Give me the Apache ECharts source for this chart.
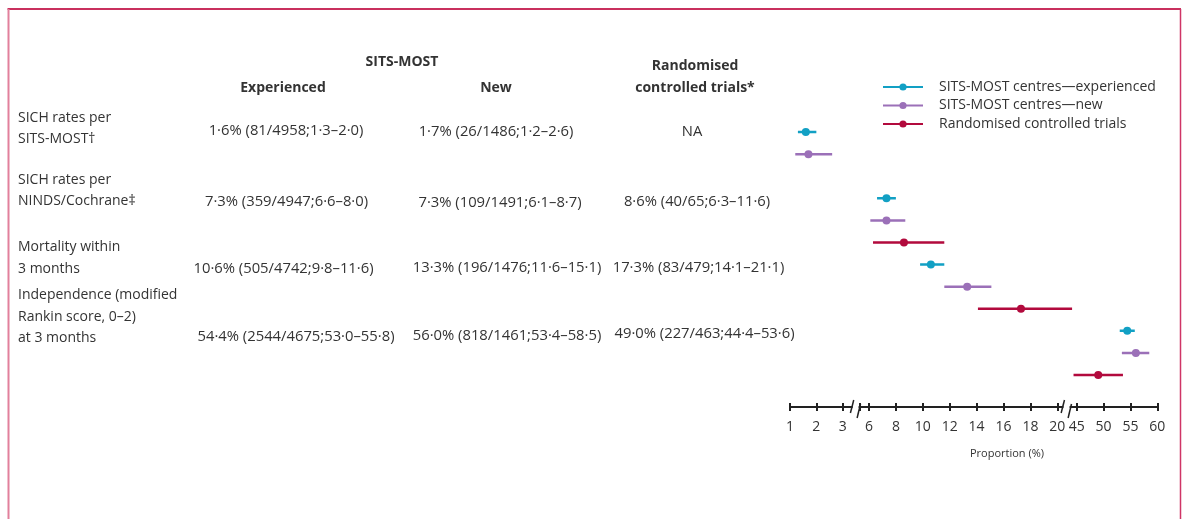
<!DOCTYPE html>
<html>
<head>
<meta charset="utf-8">
<script src="https://cdn.jsdelivr.net/npm/echarts@6/dist/echarts.min.js"></script>
<style>
html,body{margin:0;padding:0;background:#fff;}
#chart{width:1184px;height:519px;}
</style>
</head>
<body>
<div id="chart"></div>
<script>
// ---------------- data ----------------
const groupNames = ['SITS-MOST centres—experienced', 'SITS-MOST centres—new', 'Randomised controlled trials'];
const outcomes = ['SICH SITS-MOST', 'SICH NINDS/Cochrane', 'Mortality 3 months', 'Independence mRS 0–2'];
const categories = [];
outcomes.forEach(o => groupNames.forEach(g => categories.push(o + ' | ' + g)));

const expEst = [1.6, 7.3, 10.6, 54.4];
const expLo  = [1.3, 6.6, 9.8, 53.0];
const expHi  = [2.0, 8.0, 11.6, 55.8];
const newEst = [1.7, 7.3, 13.3, 56.0];
const newLo  = [1.2, 6.1, 11.6, 53.4];
const newHi  = [2.6, 8.7, 15.1, 58.5];
const rctEst = [null, 8.6, 17.3, 49.0];
const rctLo  = [null, 6.3, 14.1, 44.4];
const rctHi  = [null, 11.6, 21.1, 53.6];

// broken axis segments
const segMin = [1, 5.28, 43.8];
const segMax = [3.35, 20.4, 60];
const seg1Ticks = [1, 2, 3];
const seg2Ticks = [6, 8, 10, 12, 14, 16, 18, 20];
const seg3Ticks = [45, 50, 55, 60];

// table text
const rowLabels = [
  ['SICH rates per', 'SITS-MOST†'],
  ['SICH rates per', 'NINDS/Cochrane‡'],
  ['Mortality within', '3 months'],
  ['Independence (modified', 'Rankin score, 0–2)', 'at 3 months']
];
const expText = ['1·6% (81/4958;1·3–2·0)', '7·3% (359/4947;6·6–8·0)', '10·6% (505/4742;9·8–11·6)', '54·4% (2544/4675;53·0–55·8)'];
const newText = ['1·7% (26/1486;1·2–2·6)', '7·3% (109/1491;6·1–8·7)', '13·3% (196/1476;11·6–15·1)', '56·0% (818/1461;53·4–58·5)'];
const rctText = ['NA', '8·6% (40/65;6·3–11·6)', '17·3% (83/479;14·1–21·1)', '49·0% (227/463;44·4–53·6)'];

// ---------------- layout ----------------
const FONT = '"Open Sans", "Noto Sans", sans-serif';
const TXT = '#333';
const colors = ['#12a0c4', '#9b70b8', '#b20a3d'];
const segLeft = [790, 859.3, 1070.3];
const segPpu = [26.35, 13.45, 5.373];
const gridTop = 121, gridHeight = 265, axisOffset = 21;

const chart = echarts.init(document.getElementById('chart'), null, {renderer: 'canvas'});

const grids = [], xAxes = [], yAxes = [];
const tickSets = [seg1Ticks, [segMin[1]].concat(seg2Ticks), seg3Ticks];
const labelSets = [seg1Ticks, seg2Ticks, seg3Ticks];
for (let s = 0; s < 3; s++) {
  grids.push({left: segLeft[s], width: (segMax[s] - segMin[s]) * segPpu[s], top: gridTop, height: gridHeight, containLabel: false});
  yAxes.push({type: 'category', gridIndex: s, data: categories, inverse: true, show: false});
  const common = {type: 'value', gridIndex: s, min: segMin[s], max: segMax[s], position: 'bottom', offset: axisOffset, splitLine: {show: false}};
  xAxes.push(Object.assign({}, common, {
    axisLine: {show: true, lineStyle: {color: '#222', width: 2}},
    axisTick: {show: true, inside: false, length: 4, customValues: tickSets[s], lineStyle: {color: '#222', width: 2}},
    axisLabel: {show: true, customValues: labelSets[s], margin: 13, fontSize: 14, color: TXT, fontFamily: FONT}
  }));
  xAxes.push(Object.assign({}, common, {
    axisLine: {show: false},
    axisTick: {show: true, inside: true, length: 4, customValues: tickSets[s], lineStyle: {color: '#222', width: 2}},
    axisLabel: {show: false}
  }));
}

function segOf(v) { return v < 4 ? 0 : (v < 30 ? 1 : 2); }

const groupsData = [[expEst, expLo, expHi], [newEst, newLo, newHi], [rctEst, rctLo, rctHi]];
const series = [];
for (let g = 0; g < 3; g++) {
  for (let s = 0; s < 3; s++) {
    const [est, lo, hi] = groupsData[g];
    const data = [];
    est.forEach((v, i) => {
      if (v == null || segOf(v) !== s) return;
      const row = i * 3 + g;
      if (data.length) data.push('-');
      data.push({value: [lo[i], row], symbolSize: 0});
      data.push({value: [v, row]});
      data.push({value: [hi[i], row], symbolSize: 0});
    });
    series.push({
      type: 'line', name: groupNames[g], xAxisIndex: s * 2, yAxisIndex: s,
      data: data, clip: false, connectNulls: false, showAllSymbol: true,
      symbol: 'circle', symbolSize: 8,
      itemStyle: {color: colors[g]},
      lineStyle: {color: colors[g], width: 2.5},
      emphasis: {disabled: true}, silent: true, animation: false
    });
  }
}

// graphics: table, borders, break marks
const graphics = [];
function txt(t, x, y, opts) {
  graphics.push({type: 'text', x: x, y: y, silent: true, style: Object.assign({
    text: t, font: '14px ' + FONT, fill: TXT, align: 'left', verticalAlign: 'middle'}, opts || {})});
}
// headers
txt('SITS-MOST', 402, 62, {font: 'bold 14px ' + FONT, align: 'center'});
txt('Experienced', 283, 88, {font: 'bold 14px ' + FONT, align: 'center'});
txt('New', 496, 88, {font: 'bold 14px ' + FONT, align: 'center'});
txt('Randomised', 695, 66, {font: 'bold 14px ' + FONT, align: 'center'});
txt('controlled trials*', 695, 88, {font: 'bold 14px ' + FONT, align: 'center'});
// row labels
const labelY = [[118, 139], [180, 201], [247, 269], [295, 317, 338]];
rowLabels.forEach((lines, i) => lines.forEach((l, j) => txt(l, 18, labelY[i][j])));
// value columns (centred)
const VFONT = '14.8px ' + FONT;
const expY = [131, 202, 269, 337], newY = [132, 203, 268, 336], rctY = [132, 202, 268, 334];
const expX = [286, 286.5, 283.5, 296];
const newX = [496, 500, 507, 507];
const rctX = [692, 697, 698.5, 704.5];
expText.forEach((t, i) => txt(t, expX[i], expY[i], {font: VFONT, align: 'center'}));
newText.forEach((t, i) => txt(t, newX[i], newY[i], {font: VFONT, align: 'center'}));
rctText.forEach((t, i) => txt(t, rctX[i], rctY[i], {font: VFONT, align: 'center'}));
// axis title
txt('Proportion (%)', 1007, 454, {font: '11px ' + FONT, align: 'center'});
// border
graphics.push({type: 'line', silent: true, shape: {x1: 7.5, y1: 9, x2: 1181, y2: 9}, style: {stroke: '#c9305e', lineWidth: 2}});
graphics.push({type: 'line', silent: true, shape: {x1: 8.5, y1: 9, x2: 8.5, y2: 519}, style: {stroke: '#e2809c', lineWidth: 2}});
graphics.push({type: 'line', silent: true, shape: {x1: 1180.5, y1: 9, x2: 1180.5, y2: 519}, style: {stroke: '#cf3466', lineWidth: 1.5}});
// break marks
const axisY = gridTop + gridHeight + axisOffset;
for (let s = 0; s < 2; s++) {
  const endX = segLeft[s] + (segMax[s] - segMin[s]) * segPpu[s];
  const startX = segLeft[s + 1];
  graphics.push({type: 'line', silent: true, shape: {x1: endX + 1.8, y1: axisY - 7, x2: endX - 1.5, y2: axisY + 6}, style: {stroke: '#222', lineWidth: 1.5}});
  graphics.push({type: 'line', silent: true, shape: {x1: startX + 1.2, y1: axisY - 3, x2: startX - 2.2, y2: axisY + 11}, style: {stroke: '#222', lineWidth: 1.5}});
}

chart.setOption({
  animation: false,
  backgroundColor: '#fff',
  textStyle: {fontFamily: FONT},
  legend: {
    data: groupNames, orient: 'vertical', left: 882, top: 80, padding: 0,
    itemWidth: 40, itemHeight: 9, itemGap: 4.5,
    textStyle: {fontSize: 14, color: TXT, fontFamily: FONT, padding: [0, 0, 0, 11]},
    selectedMode: false
  },
  grid: grids, xAxis: xAxes, yAxis: yAxes, series: series,
  graphic: graphics
});
</script>
</body>
</html>
